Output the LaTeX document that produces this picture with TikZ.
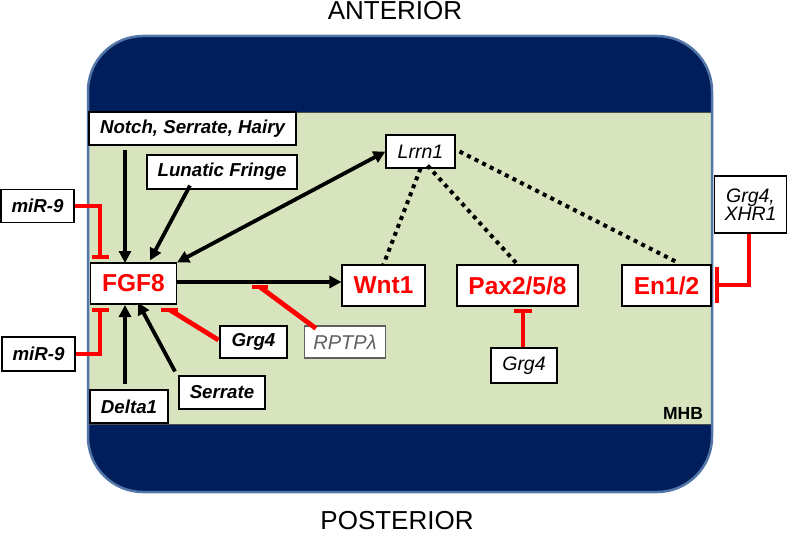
\documentclass[tikz,border=0pt]{standalone}
\usepackage{fontspec}
\setmainfont{Liberation Sans}
\usetikzlibrary{arrows.meta,calc}
\definecolor{navy}{HTML}{001D5C}
\definecolor{rimblue}{HTML}{5276A8}
\definecolor{band}{HTML}{D7E4BD}
\definecolor{inhred}{HTML}{FF0000}
\definecolor{greytxt}{HTML}{606060}
\begin{document}
\begin{tikzpicture}[x=1pt,y=-1pt,
  lbl/.style={draw=black,line width=1.1pt,fill=white,inner sep=0pt,font=\fontsize{18.7}{21}\selectfont\bfseries\itshape},
  lblr/.style={lbl,font=\fontsize{19.5}{21}\selectfont\itshape},
  gene/.style={draw=black,line width=1.1pt,fill=white,inner sep=0pt,text=inhred,font=\fontsize{24.5}{27}\selectfont\bfseries},
  arr/.style={line width=3.8pt,-{Triangle[length=12pt,width=12pt]}},
  darr/.style={line width=3.8pt,{Triangle[length=12pt,width=12pt]}-{Triangle[length=12pt,width=12pt]}},
  dots/.style={line width=4pt,dash pattern=on 4pt off 4.5pt},
  inh/.style={line width=4.8pt,draw=inhred},
  bar/.style={line width=4.8pt,draw=inhred}]
\useasboundingbox (0,0) rectangle (787,535);
% background shape
\fill[navy,rounded corners=55pt] (88,36) rectangle (712,492);
\fill[band] (88,112) rectangle (712,424);
\draw[black!70,line width=0.8pt] (88,112) -- (712,112) (88,424) -- (712,424);
\draw[rimblue,line width=2.5pt,rounded corners=55pt] (88,36) rectangle (712,492);
\node[font=\fontsize{26}{28}\selectfont] (ant) at (395,11) {ANTERIOR};
\node[font=\fontsize{26}{28}\selectfont] (post) at (397,521) {POSTERIOR};
\node[font=\fontsize{17.5}{19}\selectfont\bfseries] (mhb) at (683,413) {MHB};
% nodes
\node[lbl,minimum width=207pt,minimum height=33pt] (notch) at (192.5,128.5) {Notch, Serrate, Hairy};
\node[lbl,minimum width=150pt,minimum height=34pt] (lun) at (222,172) {Lunatic Fringe};
\node[lbl,minimum width=73pt,minimum height=33pt] (mira) at (37.5,206) {miR-9};
\node[gene,minimum width=86pt,minimum height=41pt] (fgf) at (133.5,283.5) {FGF8};
\node[lbl,minimum width=73pt,minimum height=34pt] (mirb) at (38.5,354) {miR-9};
\node[lbl,minimum width=67pt,minimum height=32pt] (grga) at (253.5,342) {Grg4};
\node[lbl,draw=greytxt,text=greytxt,font=\fontsize{20}{22}\selectfont\itshape,minimum width=81pt,minimum height=32pt] (rptp) at (345,342) {RPTPλ};
\node[lbl,minimum width=86pt,minimum height=33pt] (serr) at (222,392.5) {Serrate};
\node[lbl,minimum width=78pt,minimum height=33pt] (delta) at (129,406.5) {Delta1};
\node[gene,minimum width=83pt,minimum height=41pt] (wnt) at (383.5,285.5) {Wnt1};
\node[lblr,minimum width=69pt,minimum height=33pt] (lrrn) at (420.5,151.5) {Lrrn1};
\node[gene,minimum width=121pt,minimum height=41pt] (pax) at (517.5,285.5) {Pax2/5/8};
\node[gene,minimum width=89pt,minimum height=41pt] (en) at (666.5,285.5) {En1/2};
\node[lblr,minimum width=66pt,minimum height=35pt] (grgb) at (524,365.5) {Grg4};
\node[lblr,minimum width=72pt,minimum height=57pt,align=center] (grgx) at (750.5,204.5) {Grg4,\\[-3pt]XHR1};
% coordinates
\coordinate (fa) at (125,263);
\coordinate (fb) at (125,305);
% black arrows
\draw[arr,shorten <=4pt] (notch.south -| fa) -- (fa);
\draw[arr] ($(lun.south)+(-32,-4)$) -- ($(fgf.north)+(16.5,-2)$);
\draw[darr] (fgf.north east) -- (lrrn.west);
\draw[arr] (fgf.east |- 0,282) -- (wnt.west |- 0,282);
\draw[arr,shorten <=5pt] (delta.north -| fb) -- (fb);
\draw[arr] ($(serr.north)+(-47,-4)$) -- ($(fgf.south)+(4.5,-2)$);
% dotted relations
\draw[dots] (lrrn.south) -- (wnt.north);
\draw[dots] ($(lrrn.south)+(7,-3)$) -- (pax.north);
\draw[dots] ($(lrrn.east)+(4,0)$) -- ($(en.north)+(9,-3)$);
% inhibitions
\coordinate (ia) at (100,257);
\draw[inh] (mira.east) -| (ia);
\draw[bar] ($(ia)+(-8.5,0)$) -- ($(ia)+(8.5,0)$);
\coordinate (ib) at (100,310);
\draw[inh] (mirb.east) -| (ib);
\draw[bar] ($(ib)+(-8.5,0)$) -- ($(ib)+(8.5,0)$);
\coordinate (ic) at (170,310);
\draw[inh] ($(grga.west)+(-1,-2)$) -- (ic);
\draw[bar] ($(ic)+(-9,0)$) -- ($(ic)+(8,0)$);
\coordinate (id) at (260,287);
\draw[inh] ($(rptp.north west)+(12,3)$) -- (id);
\draw[bar] ($(id)+(-8,0)$) -- ($(id)+(8,0)$);
\coordinate (ie) at (523,311);
\draw[inh] (grgb.north -| ie) -- (ie);
\draw[bar] ($(ie)+(-9,0)$) -- ($(ie)+(9,0)$);
\coordinate (ig) at (717,285);
\draw[inh] (grgx.south -| 749,0) |- (ig);
\draw[bar] ($(ig)+(0,-18)$) -- ($(ig)+(0,18)$);
\end{tikzpicture}
\end{document}
